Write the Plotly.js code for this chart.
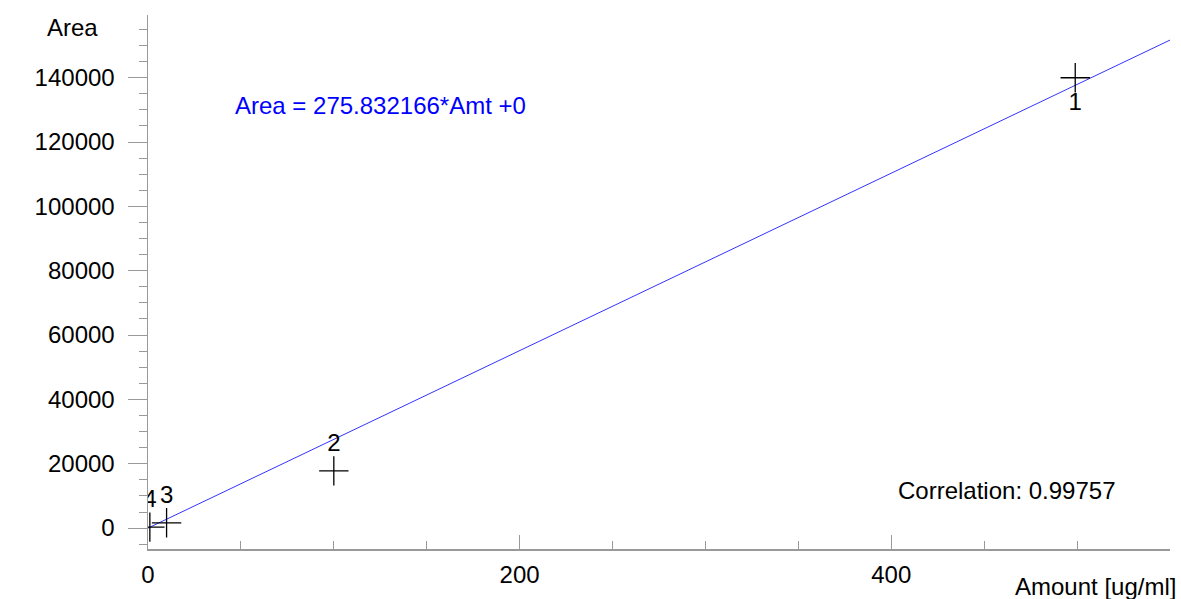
<!DOCTYPE html>
<html><head><meta charset="utf-8">
<script src="https://cdn.plot.ly/plotly-3.0.1.min.js"></script>
<style>body{margin:0}#plot{width:1181px;height:599px}</style>
</head><body><div id="plot"></div>
<script>
const amounts = [499, 100, 10, 1];
const areas = [140000, 17800, 1650, 300];
const labels = ["1", "2", "3", "4"];
const labelPos = ["bottom center", "top center", "top center", "top center"];
const slope = 275.832166;
const fitX = [0, 550];

const font = {family: "Liberation Sans, Arial, sans-serif", size: 24, color: "#000"};

const traces = [
  {x: fitX, y: fitX.map(v => slope * v), mode: "lines",
   line: {color: "#3333ff", width: 1}, hoverinfo: "skip"},
  {x: amounts, y: areas, mode: "markers+text", text: labels, textposition: labelPos,
   textfont: font,
   marker: {symbol: "cross-thin-open", size: 21, color: "#000", line: {color: "#000", width: 1.3}}}
];

const layout = {
  width: 1181, height: 599, showlegend: false,
  margin: {l: 148, r: 11, t: 15, b: 50},
  plot_bgcolor: "#fff", paper_bgcolor: "#fff", font: font,
  xaxis: {range: [0, 550], showgrid: false, zeroline: false, showline: true,
    linecolor: "#999", linewidth: 1.5, ticks: "inside", ticklen: 14, tickcolor: "#999",
    dtick: 200, tick0: 0, tickfont: font, ticklabelstandoff: 4,
    minor: {dtick: 50, ticks: "inside", ticklen: 8, tickcolor: "#999"}},
  yaxis: {range: [-6500, 159500], showgrid: false, zeroline: false, showline: true,
    linecolor: "#999", linewidth: 1.5, ticks: "outside", ticklen: 19, tickcolor: "#999",
    dtick: 20000, tick0: 0, tickfont: font, ticklabelstandoff: 8, tickformat: "d",
    minor: {dtick: 5000, ticks: "outside", ticklen: 8, tickcolor: "#999"}},
  annotations: [
    {text: "Area", xref: "paper", yref: "paper", x: -0.047, y: 0.976, xanchor: "right", yanchor: "middle", showarrow: false, font: font},
    {text: "Amount [ug/ml]", xref: "paper", yref: "paper", x: 1.008, y: -0.071, xanchor: "right", yanchor: "middle", showarrow: false, font: font},
    {text: "Area = 275.832166*Amt +0", xref: "paper", yref: "paper", x: 0.083, y: 0.830, xanchor: "left", yanchor: "middle", showarrow: false, font: Object.assign({}, font, {color: "#0000ff"})},
    {text: "Correlation: 0.99757", xref: "paper", yref: "paper", x: 0.948, y: 0.109, xanchor: "right", yanchor: "middle", showarrow: false, font: font}
  ]
};
Plotly.newPlot("plot", traces, layout, {staticPlot: true});
</script></body></html>
